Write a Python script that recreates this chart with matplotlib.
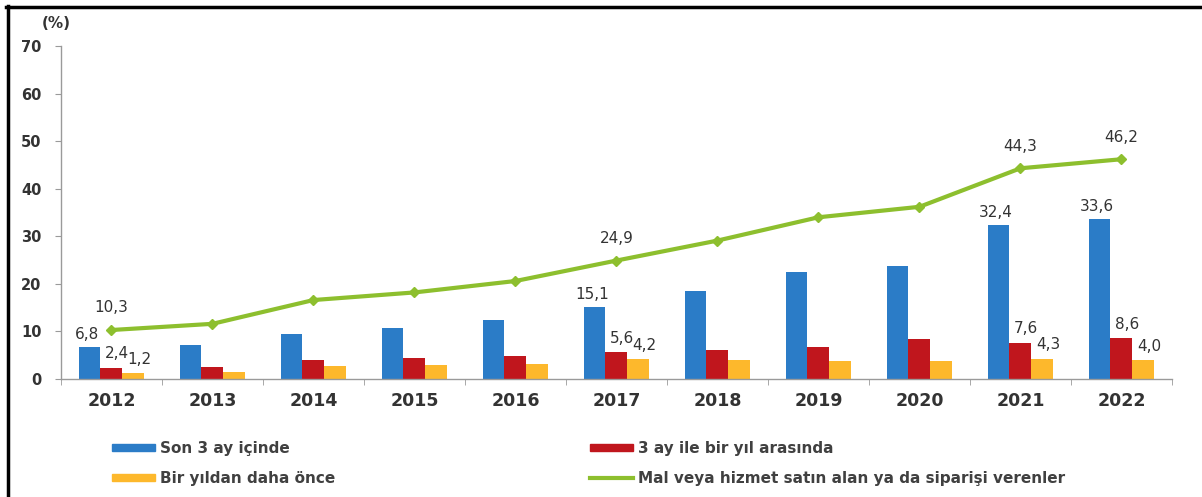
import matplotlib
matplotlib.use("Agg")
import matplotlib.pyplot as plt
from matplotlib.lines import Line2D
from matplotlib.patches import Patch
import numpy as np

plt.rcParams['font.family'] = ['DejaVu Sans']

# ---------------------------------------------------------
# DATA
# ---------------------------------------------------------
years = ["2012", "2013", "2014", "2015", "2016", "2017",
         "2018", "2019", "2020", "2021", "2022"]

son_3_ay = [6.8, 7.1, 9.5, 10.7, 12.4, 15.1, 18.6, 22.6, 23.8, 32.4, 33.6]
ay3_bir_yil = [2.4, 2.6, 4.1, 4.5, 4.8, 5.6, 6.1, 6.7, 8.5, 7.6, 8.6]
bir_yildan_once = [1.2, 1.5, 2.7, 2.9, 3.2, 4.2, 4.1, 3.8, 3.8, 4.3, 4.0]
satin_alan = [10.3, 11.6, 16.6, 18.2, 20.6, 24.9, 29.1, 34.0, 36.2, 44.3, 46.2]

# years that carry value labels
labelled = ["2012", "2017", "2021", "2022"]

series_names = ["Son 3 ay içinde", "3 ay ile bir yıl arasında",
                "Bir yıldan daha önce",
                "Mal veya hizmet satın alan ya da siparişi verenler"]

c_blue = "#2B7CC7"
c_red = "#C0161D"
c_yellow = "#FDB82C"
c_green = "#8DBF2E"
txt_col = "#333333"


def tr(v):
    return f"{v:.1f}".replace(".", ",")


# ---------------------------------------------------------
# FIGURE
# ---------------------------------------------------------
fig = plt.figure(figsize=(12.02, 4.97), dpi=100)
ax = fig.add_axes([0.0507, 0.2374, 0.9243, 0.67])

x = np.arange(len(years))
w = 0.217

ax.bar(x - w, son_3_ay, w, color=c_blue, zorder=2)
ax.bar(x, ay3_bir_yil, w, color=c_red, zorder=2)
ax.bar(x + w, bir_yildan_once, w, color=c_yellow, zorder=2)
ax.plot(x, satin_alan, color=c_green, lw=3, marker="D", ms=5.5, zorder=3)

lab_kw = dict(textcoords="offset points", ha="center", va="center",
              fontsize=11, color=txt_col)
for i, yr in enumerate(years):
    if yr not in labelled:
        continue
    ax.annotate(tr(son_3_ay[i]), (x[i] - w, son_3_ay[i]), xytext=(-2, 9), **lab_kw)
    ax.annotate(tr(ay3_bir_yil[i]), (x[i], ay3_bir_yil[i]), xytext=(4, 10), **lab_kw)
    ax.annotate(tr(bir_yildan_once[i]), (x[i] + w, bir_yildan_once[i]),
                xytext=(4, 10), **lab_kw)
    ax.annotate(tr(satin_alan[i]), (x[i], satin_alan[i]), xytext=(0, 16), **lab_kw)

ax.set_xlim(-0.5, len(years) - 0.5)
ax.set_ylim(0, 70)
ax.set_yticks(range(0, 71, 10))
ax.set_xticks(x)
ax.set_xticklabels(years)
ax.set_xticks(np.arange(-0.5, len(years)), minor=True)
ax.tick_params(axis="x", which="major", length=0, pad=9,
               labelsize=12.5, labelcolor=txt_col)
ax.tick_params(axis="x", which="minor", length=4, color="#9A9A9A", direction="out")
ax.tick_params(axis="y", length=4, color="#9A9A9A", pad=10,
               labelsize=10.5, labelcolor=txt_col)
for lab in ax.get_xticklabels() + ax.get_yticklabels():
    lab.set_fontweight("bold")

for s in ["top", "right"]:
    ax.spines[s].set_visible(False)
for s in ["left", "bottom"]:
    ax.spines[s].set_color("#9A9A9A")
    ax.spines[s].set_linewidth(1)

fig.text(0.035, 0.953, "(%)", fontsize=11, fontweight="bold", color=txt_col,
         ha="left", va="center")

# legend, one column at a time
leg_kw = dict(loc="upper left", frameon=False,
              prop={"weight": "bold", "size": 11},
              handlelength=2.8, handleheight=0.35, handletextpad=0.32,
              labelspacing=0.95, borderpad=0, borderaxespad=0,
              labelcolor="#404040")
fig.legend([Patch(color=c_blue), Patch(color=c_yellow)],
           [series_names[0], series_names[2]],
           bbox_to_anchor=(0.0932, 0.112), **leg_kw)
fig.legend([Patch(color=c_red), Line2D([], [], color=c_green, lw=3)],
           [series_names[1], series_names[3]],
           bbox_to_anchor=(0.4908, 0.112), **leg_kw)

# frame lines along top and left edge
fig.add_artist(Line2D([0.005, 1.0], [0.985, 0.985], transform=fig.transFigure,
                      color="black", lw=2.5))
fig.add_artist(Line2D([0.0065, 0.0065], [0.0, 0.987], transform=fig.transFigure,
                      color="black", lw=2.5))

fig.savefig("out.png", dpi=100)
